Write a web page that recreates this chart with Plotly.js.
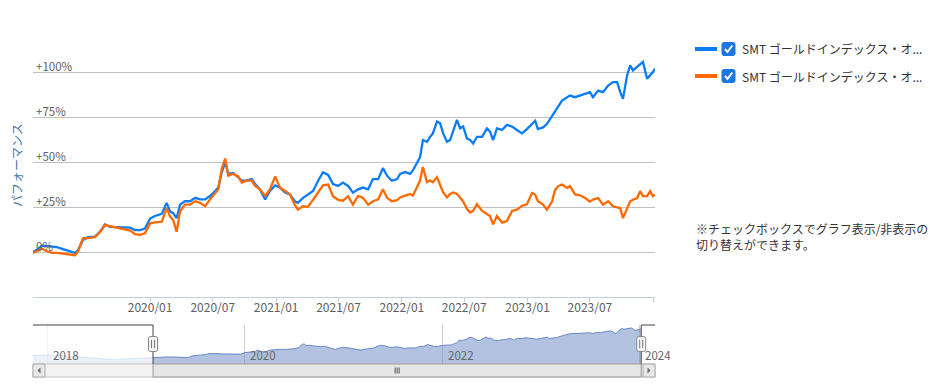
<!DOCTYPE html>
<html><head><meta charset="utf-8">
<script src="https://cdn.plot.ly/plotly-3.0.1.min.js"></script>
<style>html,body{margin:0;padding:0;background:#fff;}#chart{width:932px;height:383px;}</style>
</head><body><div id="chart"></div>
<script>
// ---- data (percent performance) ----
const dates = [
"2019-01-26","2019-02-07","2019-02-21","2019-03-08","2019-03-22","2019-04-06","2019-04-23","2019-05-13","2019-05-28","2019-06-06","2019-06-20","2019-07-05","2019-07-25","2019-08-09","2019-08-23","2019-09-07","2019-09-27","2019-10-15","2019-11-04","2019-11-18","2019-12-03","2019-12-17","2020-01-01","2020-01-15",
"2020-02-04","2020-02-18","2020-02-28","2020-03-08","2020-03-18","2020-03-28","2020-04-11","2020-04-26","2020-05-11","2020-05-25","2020-06-09","2020-06-23","2020-07-08","2020-07-17","2020-07-27","2020-08-06","2020-08-15","2020-08-29","2020-09-13","2020-09-23","2020-10-07","2020-10-22","2020-11-01","2020-11-15","2020-11-30","2020-12-14","2020-12-29","2021-01-12",
"2021-01-27","2021-02-10","2021-02-24","2021-03-05","2021-03-20","2021-04-03","2021-04-18","2021-05-03","2021-05-17","2021-06-01","2021-06-15","2021-06-30","2021-07-14","2021-07-29","2021-08-12","2021-08-27","2021-09-10","2021-09-25","2021-10-09","2021-10-24","2021-11-07","2021-11-19","2021-12-03","2021-12-18",
"2021-12-27","2022-01-10","2022-01-25","2022-02-02","2022-02-14","2022-02-23","2022-03-03","2022-03-15","2022-03-24","2022-04-01","2022-04-13","2022-04-22","2022-05-01","2022-05-12","2022-05-21","2022-05-30","2022-06-10","2022-06-19","2022-06-28","2022-07-09","2022-07-18","2022-07-27","2022-08-07","2022-08-22","2022-09-05","2022-09-14","2022-09-23","2022-10-04","2022-10-19","2022-11-02","2022-11-17","2022-12-01","2022-12-16",
"2022-12-30","2023-01-14","2023-01-23","2023-01-31","2023-02-15","2023-02-26","2023-03-13","2023-03-22","2023-03-31","2023-04-11","2023-04-26","2023-05-04","2023-05-19","2023-06-02","2023-06-17","2023-07-01","2023-07-10","2023-07-25","2023-08-08","2023-08-23","2023-09-06","2023-09-18","2023-09-27","2023-10-05","2023-10-17","2023-10-26","2023-11-03","2023-11-15","2023-11-24","2023-12-02","2023-12-14","2023-12-23","2023-12-31","2024-01-06"];
const blueSeries = [
0,1.3,3.5,3.2,3.0,2.7,1.6,0.4,-0.5,1.0,6.7,8.2,8.6,11.3,15.3,14.0,14.0,13.7,13.5,12.2,12.2,13.0,18.6,20.0,
21.2,27.3,22.5,21.6,18.8,26.3,28.2,28.2,30.1,29.2,29.2,31.1,33.9,35.8,44.3,50.0,43.4,43.9,41.5,39.6,39.6,40.5,37.7,34.8,29.2,33.9,37.0,35.8,
33.0,32.0,28.2,27.3,30.1,32.0,33.9,39.6,44.3,42.8,37.7,36.7,38.6,36.7,33.0,34.8,35.8,34.8,40.5,40.5,46.6,42.4,39.6,40.5,
43.4,44.4,43.4,45.3,50.0,52.8,62.2,61.2,64.0,65.9,72.5,71.5,65.9,61.2,62.2,67.8,73.4,68.7,69.7,63.1,62.2,60.3,64.0,64.0,68.7,66.9,62.2,68.7,67.8,70.6,69.7,67.8,65.9,
68.3,71.1,72.9,68.3,69.2,71.1,75.7,78.5,81.3,84.1,86.0,86.9,86.0,86.9,87.9,88.8,86.0,89.7,88.8,92.5,94.4,94.4,88.8,85.1,98.1,103.7,100.9,102.8,104.7,105.6,96.3,98.1,100.0,101.9];
const orangeSeries = [
-0.5,0.4,1.8,0.4,-0.5,-0.5,-0.9,-1.1,-1.8,0.5,7.7,7.7,8.2,11.3,15.0,14.4,13.5,12.6,11.9,9.9,9.5,10.4,15.9,16.5,
16.9,24.4,19.7,17.8,11.2,22.5,26.3,26.3,28.2,27.3,25.4,29.2,33.0,34.8,46.2,51.9,42.4,43.4,42.0,38.6,39.6,39.6,36.7,34.8,31.1,34.8,42.0,35.8,
33.9,32.0,26.3,23.5,25.4,25.0,29.0,33.5,37.0,37.5,31.0,29.0,28.5,31.0,26.3,31.1,30.1,26.3,28.2,29.2,34.8,30.1,28.2,28.8,
30.3,31.3,32.2,31.3,36.0,39.7,47.2,38.8,39.7,38.8,41.6,36.9,33.1,30.3,32.2,33.1,32.2,30.3,28.0,24.0,21.9,22.8,26.6,22.8,21.0,20.0,15.4,20.0,16.3,17.2,22.8,23.5,25.7,
26.5,32.8,31.9,28.2,26.3,23.5,28.0,34.5,36.6,37.5,35.6,36.6,32.0,31.5,30.0,28.0,29.1,30.0,26.3,28.2,25.4,24.8,24.4,18.8,24.4,28.2,29.0,30.0,33.8,31.0,31.0,33.8,31.0,31.9];
const seriesNames = ["SMT ゴールドインデックス・オ...","SMT ゴールドインデックス・オ..."];
// navigator history before the selected window (percent vs. window start)
const navPreDates = ["2017-11-08","2018-01-10","2018-03-06","2018-05-01","2018-06-25","2018-08-20","2018-10-14","2018-12-09"];
const navPreValues = [8.0,9.6,6.0,2.5,-2.8,-5.7,-4.6,-1.0];
const navRange = ["2017-11-08","2024-02-26"];
const xTickVals = ["2020-01-01","2020-07-01","2021-01-01","2021-07-01","2022-01-01","2022-07-01","2023-01-01","2023-07-01","2024-01-01"];
const xTickText = ["2020/01","2020/07","2021/01","2021/07","2022/01","2022/07","2023/01","2023/07",""];
const yTickVals = [-25,0,25,50,75,100,125];
const yTickText = ["","0%","+25%","+50%","+75%","+100%",""];
const navTickVals = ["2018-01-01","2020-01-01","2022-01-01","2024-01-01"];
const navTickText = ["2018","2020","2022","2024"];
const yTitle = "パフォーマンス";
const noteText = "※チェックボックスでグラフ表示/非表示の<br>切り替えができます。";

// ---- styling / geometry ----
const FONT = '"Noto Sans CJK JP","Noto Sans",sans-serif';
const BLUE = "#0a7cf5", ORANGE = "#ff6a00";
const px = x => (x - 33) / 622;
const py = y => (377 - y) / 350;
const first = dates[0], last = dates[dates.length - 1];
const midDate = new Date((new Date(first).getTime() + new Date(last).getTime()) / 2).toISOString().slice(0,10);

const traces = [
  {x: dates, y: blueSeries, type: "scatter", mode: "lines", name: seriesNames[0],
   line: {color: BLUE, width: 2.3}, xaxis: "x", yaxis: "y", hoverinfo: "skip"},
  {x: dates, y: orangeSeries, type: "scatter", mode: "lines", name: seriesNames[1],
   line: {color: ORANGE, width: 2.3}, xaxis: "x", yaxis: "y", hoverinfo: "skip"},
  {x: navPreDates.concat(dates), y: navPreValues.concat(blueSeries).map(v => 100 + v),
   type: "scatter", mode: "lines", fill: "tozeroy", fillcolor: "rgba(102,133,194,0.5)",
   line: {color: "#6a88c4", width: 1}, xaxis: "x2", yaxis: "y2", hoverinfo: "skip"}
];

const shapes = [];
// navigator masks over unselected zones
shapes.push({type:"rect", xref:"x2", yref:"paper", x0: navRange[0], x1: first, y0: py(364), y1: py(325),
  fillcolor:"rgba(255,255,255,0.75)", line:{width:0}, layer:"above"});
shapes.push({type:"rect", xref:"x2", yref:"paper", x0: last, x1: navRange[1], y0: py(364), y1: py(325),
  fillcolor:"rgba(255,255,255,0.75)", line:{width:0}, layer:"above"});
// scrollbar track
shapes.push({type:"rect", xref:"paper", yref:"paper", x0: px(33), x1: px(655), y0: py(377), y1: py(364),
  fillcolor:"#f4f4f4", line:{color:"#c4c4c4", width:1}, layer:"above"});
// scrollbar thumb
shapes.push({type:"rect", xref:"x2", yref:"paper", x0: first, x1: last, y0: py(377), y1: py(364),
  fillcolor:"#e6e6e6", line:{color:"#9a9a9a", width:1}, layer:"above"});
// buttons
[[33,45,"M1.5,-3 L-1.5,0 L1.5,3 Z"],[643,655,"M-1.5,-3 L1.5,0 L-1.5,3 Z"]].forEach(b => {
  shapes.push({type:"rect", xref:"paper", yref:"paper", x0: px(b[0]), x1: px(b[1]), y0: py(377), y1: py(364),
    fillcolor:"#e8e8e8", line:{color:"#aaaaaa", width:1}, layer:"above"});
  shapes.push({type:"path", xref:"paper", yref:"paper", xsizemode:"pixel", ysizemode:"pixel",
    xanchor: px((b[0]+b[1])/2), yanchor: py(370.5), path: b[2], fillcolor:"#666", line:{width:0}, layer:"above"});
});
// grip
shapes.push({type:"path", xref:"x2", yref:"paper", xsizemode:"pixel", ysizemode:"pixel",
  xanchor: midDate, yanchor: py(370.5), path:"M-2,-3 L-2,3 M0,-3 L0,3 M2,-3 L2,3", line:{color:"#555", width:1}, layer:"above"});
// navigator outline
const OUT = {color:"#444", width:1};
shapes.push({type:"line", xref:"x2", yref:"paper", x0: navRange[0], x1: first, y0: py(325), y1: py(325), line: OUT, layer:"above"});
shapes.push({type:"line", xref:"x2", yref:"paper", x0: first, x1: first, y0: py(325), y1: py(364), line: OUT, layer:"above"});
shapes.push({type:"line", xref:"x2", yref:"paper", x0: last, x1: last, y0: py(325), y1: py(364), line: OUT, layer:"above"});
shapes.push({type:"line", xref:"x2", yref:"paper", x0: last, x1: navRange[1], y0: py(325), y1: py(325), line: OUT, layer:"above"});
// handles
[first, last].forEach(d => {
  shapes.push({type:"path", xref:"x2", yref:"paper", xsizemode:"pixel", ysizemode:"pixel", xanchor: d, yanchor: py(344),
    path:"M-2.5,-7.5 L2.5,-7.5 Q4.5,-7.5 4.5,-5.5 L4.5,5.5 Q4.5,7.5 2.5,7.5 L-2.5,7.5 Q-4.5,7.5 -4.5,5.5 L-4.5,-5.5 Q-4.5,-7.5 -2.5,-7.5 Z",
    fillcolor:"#f6f6f6", line:{color:"#888", width:1}, layer:"above"});
  shapes.push({type:"path", xref:"x2", yref:"paper", xsizemode:"pixel", ysizemode:"pixel", xanchor: d, yanchor: py(344),
    path:"M-1.5,-4 L-1.5,4 M1.5,-4 L1.5,4", line:{color:"#777", width:1}, layer:"above"});
});
// legend (custom, with checkboxes)
const legendRows = [[49, BLUE], [76, ORANGE]];
legendRows.forEach(r => {
  shapes.push({type:"line", xref:"paper", yref:"paper", x0: px(695), x1: px(717), y0: py(r[0]), y1: py(r[0]),
    line:{color: r[1], width: 4}});
  shapes.push({type:"path", xref:"paper", yref:"paper", xsizemode:"pixel", ysizemode:"pixel", xanchor: px(728.5), yanchor: py(r[0]),
    path:"M-4.5,-6.5 L4.5,-6.5 Q6.5,-6.5 6.5,-4.5 L6.5,4.5 Q6.5,6.5 4.5,6.5 L-4.5,6.5 Q-6.5,6.5 -6.5,4.5 L-6.5,-4.5 Q-6.5,-6.5 -4.5,-6.5 Z",
    fillcolor:"#1a76e3", line:{color:"#1a76e3", width:1}});
  shapes.push({type:"path", xref:"paper", yref:"paper", xsizemode:"pixel", ysizemode:"pixel", xanchor: px(728.5), yanchor: py(r[0]),
    path:"M-3.5,0 L-1,-3 L3.8,3.5", line:{color:"#ffffff", width:2}});
});

const annotations = [];
seriesNames.forEach((n, i) => annotations.push({xref:"paper", yref:"paper", x: px(740), y: py(legendRows[i][0]),
  xanchor:"left", yanchor:"middle", text: n, showarrow:false, font:{family: FONT, size: 12, color:"#333"}}));
annotations.push({xref:"paper", yref:"paper", x: px(17), y: py(165), text: yTitle, textangle: -90, showarrow:false,
  xanchor:"center", yanchor:"middle", font:{family: FONT, size: 12, color:"#4572a7"}});
annotations.push({xref:"paper", yref:"paper", x: px(694), y: py(236), text: noteText, showarrow:false, align:"left",
  xanchor:"left", yanchor:"middle", font:{family: FONT, size: 12, color:"#333"}});
navTickVals.forEach((v, i) => annotations.push({xref:"x2", yref:"paper", x: v, y: py(355), text: navTickText[i],
  showarrow:false, xanchor:"left", yanchor:"middle", xshift: 3, font:{family: FONT, size: 11.5, color:"#666"}}));

const layout = {
  width: 932, height: 383,
  margin: {l: 33, r: 277, t: 27, b: 6},
  paper_bgcolor: "#fff", plot_bgcolor: "rgba(0,0,0,0)",
  showlegend: false,
  font: {family: FONT, size: 11, color: "#606060"},
  xaxis: {domain:[0,1], anchor:"y", type:"date", range:[first, last], tickmode:"array", tickvals: xTickVals, ticktext: xTickText,
    showgrid:false, zeroline:false, showline:true, linecolor:"#C0D0E0", linewidth:1, ticks:"outside", ticklen:4,
    ticklabelstandoff:-4,
    tickcolor:"#C0D0E0", tickfont:{family: FONT, size: 12, color:"#606060"}},
  yaxis: {domain:[py(297), 1], anchor:"x", range:[-25,125], tickmode:"array", tickvals: yTickVals, ticktext: yTickText,
    ticklabelposition:"inside top", ticklabelshift:3, showgrid:true, gridcolor:"#C0C0C0", gridwidth:1, zeroline:false, showline:false,
    tickfont:{family: FONT, size: 11.5, color:"#606060"}},
  xaxis2: {domain:[0,1], anchor:"y2", type:"date", range: navRange, tickmode:"array", tickvals: navTickVals,
    showticklabels:false, showgrid:true, gridcolor:"#d0d0d0", zeroline:false, showline:false, ticks:""},
  yaxis2: {domain:[py(364), py(325)], anchor:"x2", range:[78,216], visible:false},
  shapes: shapes, annotations: annotations
};
Plotly.newPlot("chart", traces, layout, {displayModeBar:false, staticPlot:true});
</script></body></html>
